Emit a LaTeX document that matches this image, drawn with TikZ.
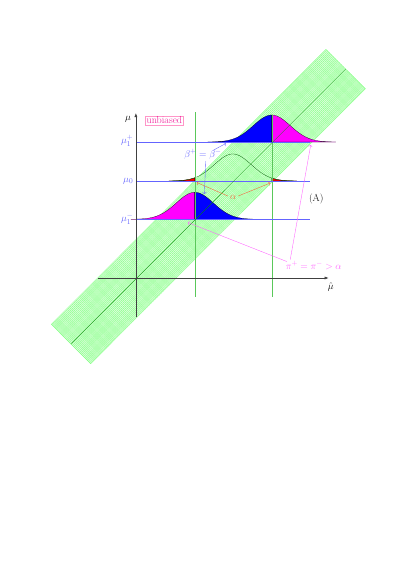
\documentclass[tikz,border=0pt]{standalone}
\usetikzlibrary{patterns,arrows.meta}
\definecolor{lblue}{RGB}{100,100,255}
\definecolor{sal}{RGB}{245,100,60}
\definecolor{pnk}{RGB}{255,100,255}
\definecolor{mag}{RGB}{255,0,255}
\definecolor{tmag}{RGB}{240,20,150}
\definecolor{bmag}{RGB}{255,150,200}
\definecolor{vgreen}{RGB}{90,200,90}
\begin{document}
\begin{tikzpicture}[x=0.05160cm,y=-0.05165cm, font=\fontsize{15}{18}\selectfont,
  bellout/.style={draw=black, line width=0.3pt},
  vline/.style={vgreen, line width=0.5pt},
  hline/.style={lblue, line width=0.6pt},
  axis/.style={black!75, line width=0.8pt, -{Latex[length=6pt,width=4.5pt]}},
  arr/.style={->, line width=0.55pt}]
\useasboundingbox (0,0) rectangle (407,575);
% band
\coordinate (c1) at (326.3,49.3);
\coordinate (c2) at (365.7,88.7);
\coordinate (c3) at (90.7,363.7);
\coordinate (c4) at (51.3,324.3);
\coordinate (ctop) at (346,69);
\coordinate (cbot) at (71,344);
\fill[green!12] (c1) -- (c2) -- (c3) -- (c4) -- cycle;
\fill[pattern=crosshatch, pattern color=green!40] (c1) -- (c2) -- (c3) -- (c4) -- cycle;
\draw[green!50, line width=0.4pt] (c1) -- (c2) -- (c3) -- (c4) -- cycle;
% top bell (mu1+)
\filldraw[blue, bellout] plot[domain=208:272, samples=60] (\x, {142-27*exp(-((\x-272)^2)/684.5)}) -- (272,142) -- (208,142) -- cycle;
\filldraw[mag, bellout] plot[domain=272:336, samples=60] (\x, {142-27*exp(-((\x-272)^2)/684.5)}) -- (336,142) -- (272,142) -- cycle;
% bottom bell (mu1-)
\filldraw[mag, bellout] plot[domain=131:195, samples=60] (\x, {219.3-27*exp(-((\x-195)^2)/684.5)}) -- (195,219.3) -- (131,219.3) -- cycle;
\filldraw[blue, bellout] plot[domain=195:259, samples=60] (\x, {219.3-27*exp(-((\x-195)^2)/684.5)}) -- (259,219.3) -- (195,219.3) -- cycle;
% middle bell (mu0)
\filldraw[red, bellout] plot[domain=169:195, samples=40] (\x, {181-27*exp(-((\x-233)^2)/684.5)}) -- (195,181) -- (169,181) -- cycle;
\filldraw[red, bellout] plot[domain=272:297, samples=40] (\x, {181-27*exp(-((\x-233)^2)/684.5)}) -- (297,181) -- (272,181) -- cycle;
\draw[green!35!black, line width=0.4pt] plot[domain=169:297, samples=120] (\x, {181-27*exp(-((\x-233)^2)/684.5)});
% vertical green lines
\draw[vline] (195,112) -- (195,297);
\draw[vline] (272,114.5) -- (272,297);
% horizontal blue lines
\draw[hline] (136,142) -- (310,142);
\draw[hline] (136,181) -- (310,181);
\draw[hline] (136,219.3) -- (310,219.3);
% band centre line
\draw[green!55!black, line width=0.4pt] (cbot) -- (ctop);
% axes
\coordinate (ybot) at (136,317);
\coordinate (ytop) at (136,113);
\coordinate (xl) at (98,278);
\coordinate (xr) at (329,278);
\draw[axis] (ybot) -- (ytop);
\draw[axis] (xl) -- (xr);
% labels
\node (mu) at (128,119) {$\mu$};
\node (muhat) at (331,287) {$\hat\mu$};
\node[lblue, anchor=east, inner sep=1pt] (m1p) at (134,141) {$\mu_1^+$};
\node[lblue, anchor=east, inner sep=1pt] (m0) at (134,181) {$\mu_0$};
\node[lblue, anchor=east, inner sep=1pt] (m1m) at (134,219) {$\mu_1^-$};
\node[draw=bmag, inner sep=1.5pt, line width=0.5pt] (unb) at (164.5,120.3) {\textcolor{tmag}{unbiased}};
\node[lblue, inner sep=1pt] (beta) at (203,154.5) {$\beta^+=\beta^-$};
\node[sal, inner sep=1pt] (alpha) at (233.3,197.5) {$\alpha$};
\node[inner sep=1pt] (A) at (316.5,199) {(A)};
\node[pnk, inner sep=1pt] (pi) at (314,265.5) {$\pi^+=\pi^->\alpha$};
% arrows
\coordinate (bs1) at (213,150.5);
\coordinate (be1) at (226,143.5);
\coordinate (bs2) at (206,161);
\coordinate (be2) at (204.5,194);
\draw[arr, lblue] (bs1) -- (be1);
\draw[arr, lblue] (bs2) -- (be2);
\coordinate (as1) at (228,196);
\coordinate (ae1) at (197,182.5);
\coordinate (as2) at (238.5,196);
\coordinate (ae2) at (270.5,183);
\draw[arr, sal] (as1) -- (ae1);
\draw[arr, sal] (as2) -- (ae2);
\coordinate (ps1) at (287,261.5);
\coordinate (pe1) at (188,222.5);
\coordinate (ps2) at (290.5,259.5);
\coordinate (pe2) at (311,145);
\draw[arr, pnk] (ps1) -- (pe1);
\draw[arr, pnk] (ps2) -- (pe2);
\end{tikzpicture}
\end{document}
